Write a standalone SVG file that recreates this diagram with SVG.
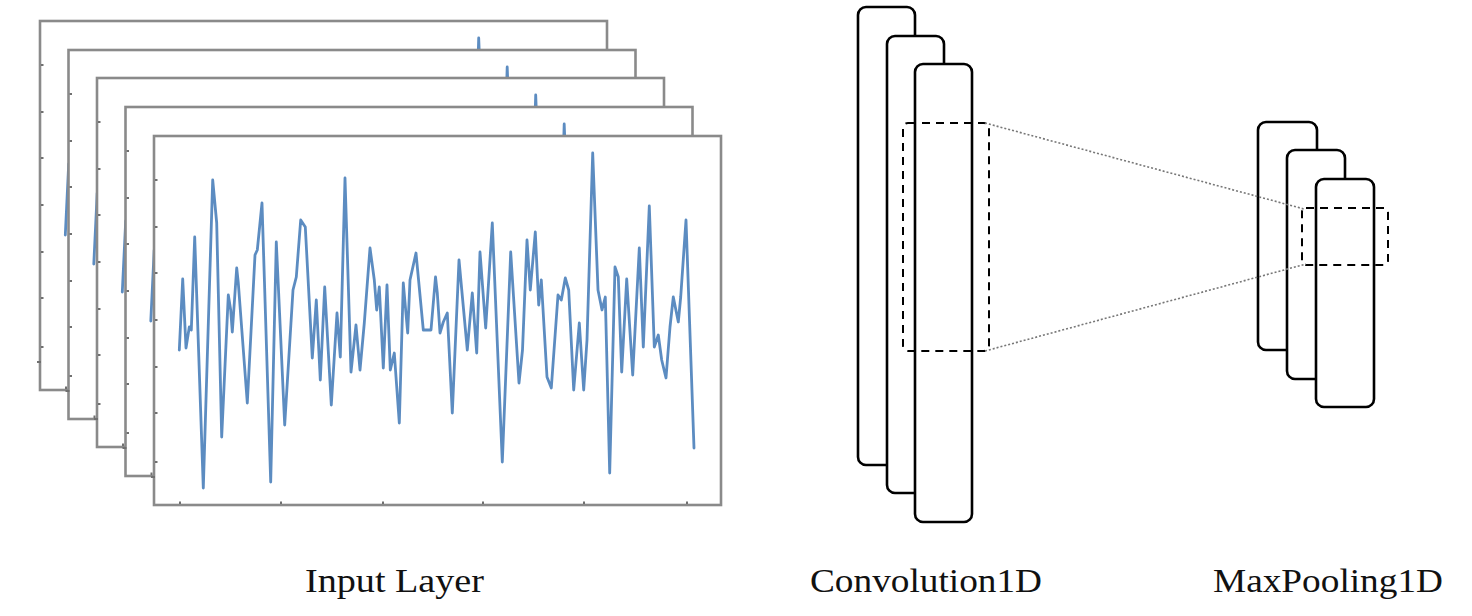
<svg xmlns="http://www.w3.org/2000/svg" xmlns:xlink="http://www.w3.org/1999/xlink" width="1472" height="616" viewBox="0 0 1472 616">
<style>
.frame{fill:#fff;stroke:#8a8a8a;stroke-width:2.6}
.tick{stroke:#707070;stroke-width:2}
.sig{fill:none;stroke:#4a80ba;stroke-width:2.8;stroke-linejoin:round;stroke-linecap:round;stroke-opacity:0.9}
.layer{fill:#fff;stroke:#000;stroke-width:2.6}
.dash{fill:none;stroke:#000;stroke-width:2;stroke-dasharray:8 6}
.dot{fill:none;stroke:#777;stroke-width:1.6;stroke-dasharray:2 2}
.label{font-family:"Liberation Serif","DejaVu Serif",serif;font-size:33px;fill:#111}
</style>
<defs>
<path id="signal" class="sig" d="M179.3,350 L182.7,279 L186,348 L189.3,327 L191.3,330 L194.7,237 L203.3,488 L212.7,180 L216.7,223 L221.7,437 L228.3,295 L230.7,310 L232.3,332 L236.7,268 L238.3,283 L247.3,403 L255,255 L257.3,250 L262,203 L270.7,482 L276.3,242 L284.7,425 L293,290 L296.3,277 L300.7,220 L305.3,227 L312.3,358 L316.3,300 L320.3,380 L324.7,287 L331.3,405 L337,313 L340.3,357 L345,178 L351,372 L356,325 L360,370 L364.3,323 L370,248 L374.3,280 L376.7,310 L379.3,287 L383.3,368 L387,285 L390.3,370 L394.3,353 L399.3,423 L403.3,283 L407.7,333 L410,280 L416,253 L423.3,330 L431,330 L435.5,277 L437.3,293 L440,333 L443.3,322 L447.3,313 L452.3,413 L459,260 L467.3,350 L472.3,293 L476.7,353 L480,252 L485.7,328 L492.3,223 L502.3,462 L510.7,252 L519,383 L522.5,350 L527,240 L530.3,290 L535.3,232 L538.7,305 L541.3,280 L547,377 L551.3,388 L558,295 L561.3,300 L565.3,278 L568.7,290 L573.7,390 L579.3,323 L583.7,390 L587,340 L592.7,153 L598,290 L602,310 L605.3,297 L609.7,473 L615,267 L618.3,277 L621.7,372 L626.7,279 L632.7,375 L639.3,248 L643.3,347 L649.3,206 L654.3,347 L658.3,335 L661.7,360 L666,378 L670,327 L673.3,297 L678.3,322 L680.7,297 L686,220 L694,448"/>
<g id="frame">
<rect class="frame" x="154" y="136" width="567" height="369"/>
<path class="tick" d="M155,180h2.5M155,227h2.5M155,273h2.5M155,320h2.5M155,367h2.5M155,413h2.5M155,462h2.5M151,477h4M180,504v-2.5M281,504v-2.5M383,504v-2.5M483,504v-2.5M584,504v-2.5M687,504v-2.5"/>
<use xlink:href="#signal" href="#signal"/>
</g>
</defs>

<g id="input-layer">
<g id="input-frame-1" transform="translate(-114,-115)"><use xlink:href="#frame" href="#frame"/></g>
<g id="input-frame-2" transform="translate(-85.5,-86)"><use xlink:href="#frame" href="#frame"/></g>
<g id="input-frame-3" transform="translate(-57,-58)"><use xlink:href="#frame" href="#frame"/></g>
<g id="input-frame-4" transform="translate(-28.5,-29)"><use xlink:href="#frame" href="#frame"/></g>
<g id="input-frame-5"><use xlink:href="#frame" href="#frame"/></g>
<text class="label" x="394.5" y="592" text-anchor="middle" textLength="179" lengthAdjust="spacingAndGlyphs">Input Layer</text>
</g>

<g id="convolution1d">
<rect class="layer" x="858" y="7" width="57" height="458" rx="8"/>
<rect class="layer" x="887" y="36" width="57" height="457" rx="8"/>
<rect class="layer" x="915" y="64" width="57" height="458" rx="8"/>
<rect class="dash" x="903" y="123" width="86" height="228" rx="5"/>
<text class="label" x="926" y="592" text-anchor="middle" textLength="232" lengthAdjust="spacingAndGlyphs">Convolution1D</text>
</g>

<g id="maxpooling1d">
<rect class="layer" x="1258" y="122" width="59" height="228" rx="8"/>
<rect class="layer" x="1287" y="150" width="58" height="229" rx="8"/>
<rect class="layer" x="1316" y="179" width="58" height="228" rx="8"/>
<rect class="dash" x="1302" y="208" width="86" height="57" rx="4"/>
<text class="label" x="1328" y="592" text-anchor="middle" textLength="230" lengthAdjust="spacingAndGlyphs">MaxPooling1D</text>
</g>

<g id="connectors">
<line class="dot" x1="985" y1="123" x2="1304" y2="209"/>
<line class="dot" x1="985" y1="351" x2="1306" y2="264"/>
</g>
</svg>
